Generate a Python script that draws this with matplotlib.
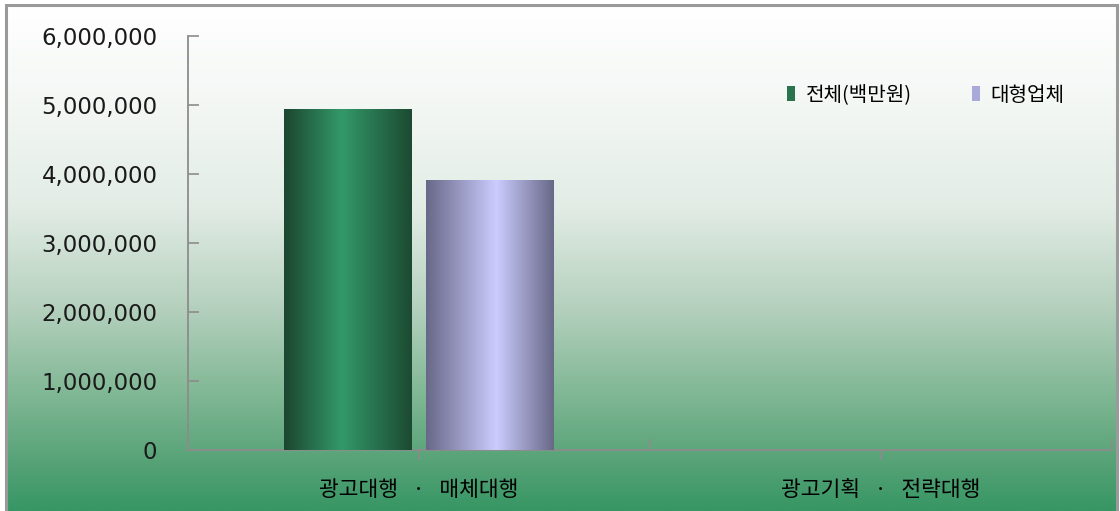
import numpy as np
import matplotlib
matplotlib.use('Agg')
import matplotlib.pyplot as plt
from matplotlib.patches import Patch, Rectangle

plt.rcParams['font.family'] = ['Noto Sans CJK KR', 'DejaVu Sans']

categories = ['광고대행   ·   매체대행', '광고기획   ·   전략대행']
series_names = ['전체(백만원)', '대형업체']
total = [4930000, 0]
large = [3910000, 0]
yticks = [0, 1000000, 2000000, 3000000, 4000000, 5000000, 6000000]


def ramp(stops, n=256):
    pos = np.array([s[0] for s in stops])
    cols = np.array([s[1] for s in stops], dtype=float) / 255.0
    t = np.linspace(0, 1, n)
    return np.stack([np.interp(t, pos, cols[:, k]) for k in range(3)], axis=-1)


green = ramp([(0, (28, 70, 47)), (0.45, (51, 153, 106)), (1, (28, 74, 50))])
purple = ramp([(0, (104, 104, 136)), (0.55, (204, 204, 255)), (1, (104, 104, 136))])
bg = ramp([(0, (255, 255, 255)), (0.2, (243, 247, 244)), (0.4, (226, 236, 229)),
           (0.6, (180, 208, 189)), (0.78, (125, 182, 146)), (0.9, (88, 163, 120)),
           (1, (55, 150, 100))])

fig = plt.figure(figsize=(11.2, 5.11), dpi=100)
fig.patch.set_facecolor('white')

# background panel with vertical gradient
bax = fig.add_axes([6 / 1120, 0, (1117 - 6) / 1120, (511 - 5) / 511])
bax.imshow(bg[:, None, :], aspect='auto', extent=(0, 1, 0, 1), origin='upper')
bax.set_xlim(0, 1)
bax.set_ylim(0, 1)
bax.axis('off')
fig.patches.append(Rectangle((6 / 1120, -0.01), (1117 - 6) / 1120, (511 - 5) / 511 + 0.01,
                             transform=fig.transFigure, fill=False,
                             edgecolor='#9a9a9a', lw=2.2, zorder=5))

ax = fig.add_axes([188 / 1120, 1 - 450 / 511, (1112 - 188) / 1120, (450 - 36) / 511])
ax.patch.set_alpha(0)

w = 0.277
off = 0.1537
x = np.arange(len(categories))
for i in range(len(categories)):
    for vals, grad, sgn in ((total, green, -1), (large, purple, 1)):
        if vals[i] > 0:
            c = x[i] + sgn * off
            ax.imshow(grad[None, :, :], aspect='auto',
                      extent=(c - w / 2, c + w / 2, 0, vals[i]), zorder=3)

ax.set_xlim(-0.5, 1.5)
ax.set_ylim(0, 6000000)

for s in ('top', 'right'):
    ax.spines[s].set_visible(False)
for s in ('left', 'bottom'):
    ax.spines[s].set_color('#8c8c8c')
    ax.spines[s].set_linewidth(1.3)

ax.set_yticks(yticks)
ax.set_yticklabels([f'{v:,}' for v in yticks], family='DejaVu Sans', fontsize=16.5,
                   color='#1a1a1a')
ax.tick_params(axis='y', direction='in', length=8, width=1.2, color='#8c8c8c', pad=22)

ax.set_xticks(x)
ax.set_xticklabels(categories, fontsize=15.5)
ax.set_xticks([-0.5, 0.5, 1.5], minor=True)
ax.tick_params(axis='x', which='major', direction='out', length=7, width=1.2,
               color='#8c8c8c', pad=14)
ax.tick_params(axis='x', which='minor', direction='in', length=8, width=1.2,
               color='#8c8c8c')

handles = [Patch(facecolor=(0.16, 0.45, 0.3), edgecolor='none'),
           Patch(facecolor=(0.66, 0.66, 0.85), edgecolor='none')]
ax.legend(handles, series_names, loc='center left', bbox_to_anchor=(0.6285, 0.857),
          ncol=2, frameon=False, fontsize=14.5, handlelength=0.4, handleheight=0.75,
          handletextpad=0.55, columnspacing=2.95)

fig.savefig('out.png', dpi=100)
